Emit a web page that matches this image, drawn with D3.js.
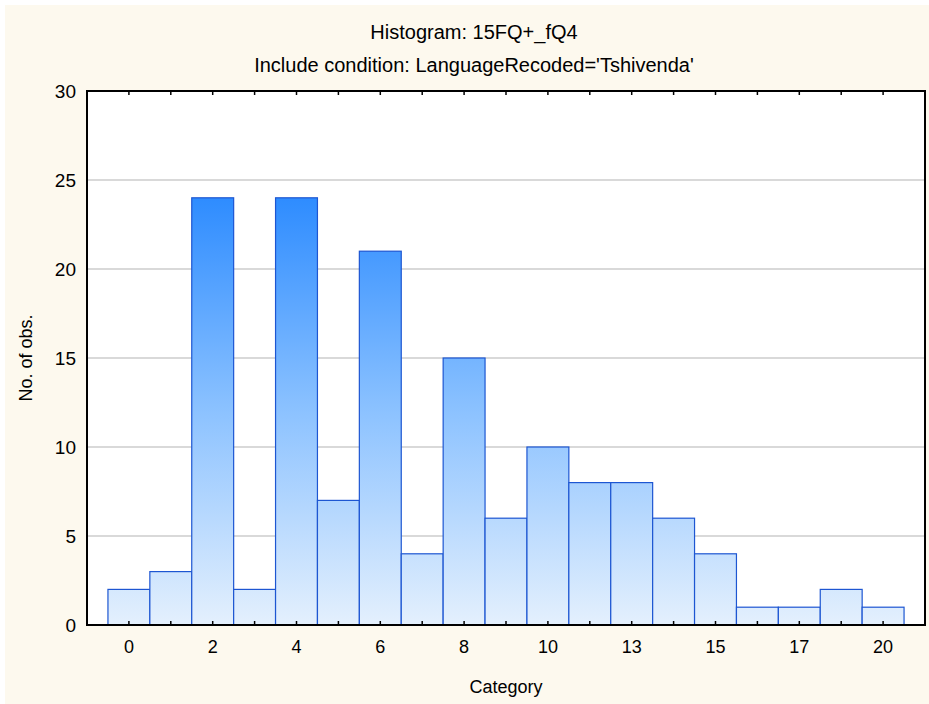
<!DOCTYPE html>
<html>
<head>
<meta charset="utf-8">
<script src="https://cdn.jsdelivr.net/npm/d3@7"></script>
<style>
  body { margin: 0; background: #ffffff; }
  svg { display: block; font-family: "Liberation Sans", Arial, sans-serif; }
</style>
</head>
<body>
<div class="chart"></div>
<script>
// categories of the histogram (only every other one gets a label)
const categories = ["0","1","2","3","4","5","6","7","8","9","10","12","13","14","15","16","17","18","20"];
const counts = [2, 3, 24, 2, 24, 7, 21, 4, 15, 6, 10, 8, 8, 6, 4, 1, 1, 2, 1];
const yTicks = [0, 5, 10, 15, 20, 25, 30];
const labelled = ["0","2","4","6","8","10","13","15","17","20"];

const width = 929, height = 704;
const margin = {top: 91, right: 4, bottom: 79, left: 87};

const svg = d3.select(".chart")
    .append("svg")
    .attr("width", width)
    .attr("height", height);

// white edge on top/left, cream panel
svg.append("rect")
    .attr("width", width).attr("height", height)
    .attr("fill", "#ffffff");
svg.append("rect")
    .attr("x", 5).attr("y", 5)
    .attr("width", width - 5).attr("height", height - 5)
    .attr("fill", "#fdf9ee");

const x = d3.scaleBand()
    .domain(categories)
    .range([margin.left, width - margin.right])
    .paddingInner(0)
    .paddingOuter(0.5);

const y = d3.scaleLinear()
    .domain([0, 30])
    .range([height - margin.bottom, margin.top]);

// gradient runs over the whole plot height so short bars stay pale
const grad = svg.append("defs").append("linearGradient")
    .attr("id", "barGrad")
    .attr("gradientUnits", "userSpaceOnUse")
    .attr("x1", 0).attr("x2", 0)
    .attr("y1", y(0)).attr("y2", y(24));
grad.append("stop").attr("offset", 0).attr("stop-color", "#e4f0fd");
grad.append("stop").attr("offset", 0.5).attr("stop-color", "#8cc2ff");
grad.append("stop").attr("offset", 1).attr("stop-color", "#2e8cff");

// white plot area
svg.append("rect")
    .attr("x", margin.left).attr("y", margin.top)
    .attr("width", width - margin.left - margin.right)
    .attr("height", height - margin.top - margin.bottom)
    .attr("fill", "white");

// gridlines
svg.append("g")
    .selectAll("line")
    .data(yTicks.filter(d => d > 0 && d < 30))
    .join("line")
    .attr("x1", margin.left).attr("x2", width - margin.right)
    .attr("y1", d => y(d)).attr("y2", d => y(d))
    .attr("stroke", "#d9d9d9")
    .attr("stroke-width", 2);

// bars
svg.append("g")
    .selectAll("rect")
    .data(categories)
    .join("rect")
    .attr("x", d => x(d))
    .attr("y", (d, i) => y(counts[i]))
    .attr("width", x.bandwidth())
    .attr("height", (d, i) => y(0) - y(counts[i]))
    .attr("fill", "url(#barGrad)")
    .attr("stroke", "#1d56d2")
    .attr("stroke-width", 1.2);

// inside ticks at bottom and top
const tickG = svg.append("g").attr("stroke", "black").attr("stroke-width", 1.5);
tickG.selectAll(".tb")
    .data(categories)
    .join("line")
    .attr("class", "tb")
    .attr("x1", d => x(d) + x.bandwidth() / 2).attr("x2", d => x(d) + x.bandwidth() / 2)
    .attr("y1", y(0)).attr("y2", y(0) - 4);
tickG.selectAll(".tt")
    .data(categories)
    .join("line")
    .attr("class", "tt")
    .attr("x1", d => x(d) + x.bandwidth() / 2).attr("x2", d => x(d) + x.bandwidth() / 2)
    .attr("y1", y(30)).attr("y2", y(30) + 4);

// frame
svg.append("rect")
    .attr("x", margin.left).attr("y", margin.top)
    .attr("width", width - margin.left - margin.right)
    .attr("height", height - margin.top - margin.bottom)
    .attr("fill", "none")
    .attr("stroke", "black")
    .attr("stroke-width", 2);

// y tick labels
svg.append("g")
    .selectAll("text")
    .data(yTicks)
    .join("text")
    .attr("x", margin.left - 11)
    .attr("y", d => y(d))
    .attr("dy", "0.35em")
    .attr("text-anchor", "end")
    .style("font-size", "19px")
    .text(d => d);

// x tick labels
svg.append("g")
    .selectAll("text")
    .data(labelled)
    .join("text")
    .attr("x", d => x(d) + x.bandwidth() / 2)
    .attr("y", y(0) + 28)
    .attr("text-anchor", "middle")
    .style("font-size", "18px")
    .text(d => d);

// titles and axis labels
svg.append("text")
    .attr("x", 474).attr("y", 39)
    .attr("text-anchor", "middle")
    .style("font-size", "20px")
    .text("Histogram: 15FQ+_fQ4");
svg.append("text")
    .attr("x", 474).attr("y", 72)
    .attr("text-anchor", "middle")
    .style("font-size", "20px")
    .text("Include condition: LanguageRecoded='Tshivenda'");
svg.append("text")
    .attr("x", 506).attr("y", 693)
    .attr("text-anchor", "middle")
    .style("font-size", "18px")
    .text("Category");
svg.append("text")
    .attr("transform", "translate(32," + 358 + ") rotate(-90)")
    .attr("text-anchor", "middle")
    .style("font-size", "18px")
    .text("No. of obs.");
</script>
</body>
</html>
